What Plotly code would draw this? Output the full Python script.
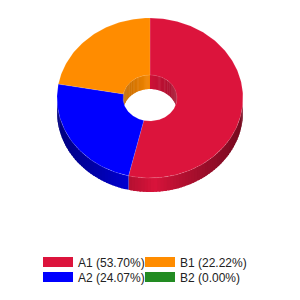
import math
import plotly.graph_objects as go

# ---- data ----
labels = ["A1", "A2", "B1", "B2"]
values = [29, 13, 12, 0]
colors = ["#DC143C", "#0000FF", "#FF8C00", "#228B22"]
legend_grid = {"A1": (0, 0), "B1": (0, 1), "A2": (1, 0), "B2": (1, 1)}  # (row, col)

# ---- geometry / style (pixel-like axis units) ----
CX, CY = 150.0, 98.0
RX, RY = 93.0, 80.0
HX, HY = 27.0, 23.0
DEPTH = 14.0
STEP = 2.0  # degrees per gradient strip
OVER = 1.2  # degrees of overlap between strips

total = sum(values)
pct = [v / total * 100 for v in values]


def hex_rgb(h):
    h = h.lstrip("#")
    return tuple(int(h[i:i + 2], 16) for i in (0, 2, 4))


def shade(h, f):
    r, g, b = hex_rgb(h)
    return "rgb(%d,%d,%d)" % (min(255, r * f), min(255, g * f), min(255, b * f))


def pt(rx, ry, a):
    t = math.radians(a)
    return CX + rx * math.sin(t), CY - ry * math.cos(t)


def arange(a0, a1, step):
    n = max(1, int(math.ceil(abs(a1 - a0) / step)))
    return [a0 + (a1 - a0) * i / n for i in range(n + 1)]


# slice angle spans (clockwise from top)
spans = []
acc = 0.0
for v in values:
    a0 = acc
    acc += v / total * 360.0
    spans.append((a0, acc))

fig = go.Figure()


def outer_f(u):
    return 1.0 - 0.5 * (abs(u - 0.05) / 1.05) ** 0.8


def inner_f(u):
    return 0.95 - 0.2 * abs(u + 0.05)


def strip_pairs(lo, hi):
    angs = arange(lo, hi, STEP)
    out = []
    for k, (s0, s1) in enumerate(zip(angs[:-1], angs[1:])):
        e1 = s1 + OVER if k < len(angs) - 2 else s1
        out.append((s0, min(e1, hi), (s0 + s1) / 2))
    return out


# outer side wall (front half 90..270)
for (a0, a1), c, v in zip(spans, colors, values):
    if v == 0:
        continue
    lo, hi = max(a0, 90.0), min(a1, 270.0)
    if hi <= lo:
        continue
    for s0, s1, sm in strip_pairs(lo, hi):
        a_s = arange(s0, s1, 0.5)
        top = [pt(RX, RY, a) for a in a_s]
        xs = [p[0] for p in top] + [p[0] for p in reversed(top)] + [top[0][0]]
        ys = [p[1] for p in top] + [p[1] + DEPTH for p in reversed(top)] + [top[0][1]]
        col = shade(c, outer_f(math.sin(math.radians(sm))))
        fig.add_trace(go.Scatter(
            x=xs, y=ys, fill="toself", fillcolor=col, mode="lines",
            line=dict(color=col, width=0), hoverinfo="skip", showlegend=False))

# inner hole wall (back half -90..90)
for (a0, a1), c, v in zip(spans, colors, values):
    if v == 0:
        continue
    for off in (0.0, -360.0):
        lo, hi = max(a0 + off, -90.0), min(a1 + off, 90.0)
        if hi <= lo:
            continue
        for s0, s1, sm in strip_pairs(lo, hi):
            a_s = arange(s0, s1, 0.5)
            top = [pt(HX, HY, a) for a in a_s]
            bot = [min(p[1] + DEPTH, CY + HY * math.cos(math.radians(a)))
                   for p, a in zip(top, a_s)]
            xs = [p[0] for p in top] + [p[0] for p in reversed(top)] + [top[0][0]]
            ys = [p[1] for p in top] + list(reversed(bot)) + [top[0][1]]
            col = shade(c, inner_f(math.sin(math.radians(sm))))
            fig.add_trace(go.Scatter(
                x=xs, y=ys, fill="toself", fillcolor=col, mode="lines",
                line=dict(color=col, width=0), hoverinfo="skip", showlegend=False))

# top face
for (a0, a1), c, v in zip(spans, colors, values):
    if v == 0:
        continue
    outer = [pt(RX, RY, a) for a in arange(a0, a1, 1.0)]
    inner = [pt(HX, HY, a) for a in arange(a1, a0, 1.0)]
    poly = outer + inner + [outer[0]]
    fig.add_trace(go.Scatter(
        x=[p[0] for p in poly], y=[p[1] for p in poly],
        fill="toself", fillcolor=c, mode="lines",
        line=dict(color="rgba(255,255,255,0.15)", width=0.8),
        hoverinfo="skip", showlegend=False))

# legend: one single-item legend per grid cell
LEG_X0, LEG_DX = 38.0, 102.0
LEG_Y0, LEG_DY = 262.0, 15.0
legend_common = dict(
    orientation="h", xanchor="left", yanchor="middle",
    font=dict(family="Arial, Liberation Sans", size=12, color="#222"),
    bgcolor="rgba(0,0,0,0)", itemwidth=30,
    itemclick=False, itemdoubleclick=False,
)
legend_layout = {}
for k, lab in enumerate(["A1", "B1", "A2", "B2"]):
    i = labels.index(lab)
    lg = "legend" if k == 0 else "legend%d" % (k + 1)
    r, c = legend_grid[lab]
    fig.add_trace(go.Scatter(
        x=[None], y=[None], mode="lines",
        line=dict(color=colors[i], width=10),
        name="%s (%.2f%%)" % (lab, pct[i]), legend=lg))
    legend_layout[lg] = dict(x=(LEG_X0 + c * LEG_DX) / 300,
                             y=1 - (LEG_Y0 + r * LEG_DY) / 300, **legend_common)

fig.update_layout(
    width=300, height=300,
    margin=dict(l=0, r=0, t=0, b=0),
    paper_bgcolor="white", plot_bgcolor="white",
    xaxis=dict(range=[0, 300], visible=False, fixedrange=True),
    yaxis=dict(range=[300, 0], visible=False, fixedrange=True),
    showlegend=True,
    **legend_layout,
)

fig.write_html("out.html")
